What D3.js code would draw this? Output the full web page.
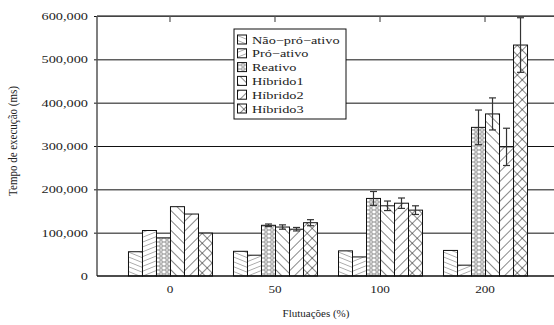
<!DOCTYPE html>
<html lang="pt">
<head>
  <meta charset="UTF-8">
  <title>Tempo de execução</title>
  <script src="https://d3js.org/d3.v7.min.js"></script>
  <style>
    body { margin: 0; background: #fff; }
    svg { display: block; overflow: hidden; }
    text { font-family: "Liberation Serif", "Times New Roman", serif; fill: #222; }
    .grid { stroke: #111; stroke-width: 1; }
    .frame { stroke: #555; stroke-width: 1.5; fill: none; }
    .bar { stroke: #111; stroke-width: 1; }
    .err { stroke: #333; stroke-width: 1.2; }
  </style>
</head>
<body>
  <div id="chart"></div>
  <script>
    // dados
    const categories = ["0", "50", "100", "200"];
    const series = ["Não-pró-ativo", "Pró-ativo", "Reativo", "Híbrido1", "Híbrido2", "Híbrido3"];
    const naoProativo = [56000, 57000, 58000, 59000];
    const proativo = [105000, 48000, 44000, 25000];
    const reativo = [88000, 117000, 179000, 343000];
    const hibrido1 = [160000, 113000, 162000, 374000];
    const hibrido2 = [143000, 108000, 168000, 298000];
    const hibrido3 = [99000, 123000, 152000, 533000];
    const errNaoProativo = [0, 0, 0, 0];
    const errProativo = [0, 0, 0, 0];
    const errReativo = [0, 3000, 16000, 40000];
    const errHibrido1 = [0, 5000, 11000, 37000];
    const errHibrido2 = [0, 4000, 12000, 43000];
    const errHibrido3 = [0, 7000, 10000, 63000];
    const yTicks = [0, 100000, 200000, 300000, 400000, 500000, 600000];

    const values = [naoProativo, proativo, reativo, hibrido1, hibrido2, hibrido3];
    const errors = [errNaoProativo, errProativo, errReativo, errHibrido1, errHibrido2, errHibrido3];

    const width = 554, height = 325;
    const mLeft = 97, mRight = 558, mTop = 16, mBottom = 276;

    const svg = d3.select("#chart").append("svg")
      .attr("width", width)
      .attr("height", height);

    // texto esticado na horizontal, como na figura original
    function label(sel, x, y, sx, txt, anchor, size) {
      return sel.append("text")
        .attr("transform", "translate(" + x + "," + y + ") scale(" + sx + ",1)")
        .attr("text-anchor", anchor)
        .attr("font-size", size)
        .text(txt);
    }

    // padrões de preenchimento
    const defs = svg.append("defs");
    function linePattern(id, angle, gap, color, w) {
      const p = defs.append("pattern")
        .attr("id", id)
        .attr("patternUnits", "userSpaceOnUse")
        .attr("width", gap).attr("height", gap)
        .attr("patternTransform", "rotate(" + angle + ")");
      p.append("rect").attr("width", gap).attr("height", gap).attr("fill", "#fff");
      p.append("line").attr("x1", 0).attr("y1", 0).attr("x2", 0).attr("y2", gap)
        .attr("stroke", color).attr("stroke-width", w);
      return p;
    }
    linePattern("p0", -68, 4.5, "#666", 1);    // \ raso
    linePattern("p1", 68, 4.5, "#666", 1);     // / raso
    // reativo: pequenos ovais
    const p2 = defs.append("pattern").attr("id", "p2")
      .attr("patternUnits", "userSpaceOnUse").attr("width", 6).attr("height", 4);
    p2.append("rect").attr("width", 6).attr("height", 4).attr("fill", "#fff");
    p2.append("ellipse").attr("cx", 3).attr("cy", 2).attr("rx", 2.4).attr("ry", 1.2)
      .attr("fill", "none").attr("stroke", "#666").attr("stroke-width", 0.8);
    linePattern("p3", -45, 7, "#111", 1);      // \
    linePattern("p4", 45, 7, "#111", 1);       // /
    const p5 = linePattern("p5", 45, 7, "#111", 1);
    p5.append("line").attr("x1", 0).attr("y1", 0).attr("x2", 7).attr("y2", 0)
      .attr("stroke", "#111").attr("stroke-width", 1);

    const x0 = d3.scaleBand().domain(categories).range([mLeft, mRight])
      .paddingInner(0.2).paddingOuter(0.295);
    const x1 = d3.scaleBand().domain(series).range([0, x0.bandwidth()]);
    const y = d3.scaleLinear().domain([0, 600000]).range([mBottom, mTop]);

    // linhas de grade
    svg.append("g").selectAll("line").data(yTicks.slice(1)).join("line")
      .attr("class", "grid")
      .attr("x1", mLeft - 3).attr("x2", mRight)
      .attr("y1", d => y(d) + 0.5).attr("y2", d => y(d) + 0.5);

    // eixo y
    const yAxis = svg.append("g");
    yTicks.forEach(d => label(yAxis, mLeft - 9, y(d) + 4, 1.3, d3.format(",")(d), "end", 11));

    // barras
    const groups = svg.append("g").selectAll("g").data(categories).join("g")
      .attr("transform", c => "translate(" + x0(c) + ",0)");

    groups.each(function (c, ci) {
      const g = d3.select(this);
      series.forEach((s, si) => {
        const v = values[si][ci];
        g.append("rect")
          .attr("class", "bar")
          .attr("x", x1(s) + 0.5)
          .attr("y", y(v))
          .attr("width", x1.bandwidth())
          .attr("height", y(0) - y(v))
          .attr("fill", "url(#p" + si + ")");
      });
      series.forEach((s, si) => {
        const v = values[si][ci], e = errors[si][ci];
        if (!e) return;
        const cx = x1(s) + x1.bandwidth() / 2 + 0.5;
        g.append("line").attr("class", "err")
          .attr("x1", cx).attr("x2", cx).attr("y1", y(v + e)).attr("y2", y(v - e));
        [v + e, v - e].forEach(t => {
          g.append("line").attr("class", "err")
            .attr("x1", cx - 3.5).attr("x2", cx + 3.5).attr("y1", y(t)).attr("y2", y(t));
        });
      });
    });

    // moldura
    svg.append("line").attr("class", "frame")
      .attr("x1", mLeft).attr("x2", mRight).attr("y1", mTop).attr("y2", mTop);
    svg.append("line").attr("class", "frame")
      .attr("x1", mLeft).attr("x2", mLeft).attr("y1", mTop).attr("y2", mBottom);
    svg.append("line").attr("stroke", "#111").attr("stroke-width", 1.5)
      .attr("x1", mLeft).attr("x2", mRight).attr("y1", mBottom).attr("y2", mBottom);
    svg.append("g").selectAll("line").data(categories).join("line")
      .attr("stroke", "#555").attr("stroke-width", 1.2)
      .attr("x1", c => x0(c) + x0.bandwidth() / 2).attr("x2", c => x0(c) + x0.bandwidth() / 2)
      .attr("y1", mTop).attr("y2", mTop + 6);

    // eixo x
    const xAxis = svg.append("g");
    categories.forEach(c => label(xAxis, x0(c) + x0.bandwidth() / 2, 293, 1.2, c, "middle", 11));

    label(svg, 316, 317, 1.0, "Flutuações (%)", "middle", 11);

    svg.append("text")
      .attr("transform", "translate(17,141) scale(1.2,1) rotate(-90)")
      .attr("text-anchor", "middle")
      .attr("font-size", 11)
      .text("Tempo de execução (ms)");

    // legenda
    const leg = svg.append("g").attr("transform", "translate(234,29)");
    leg.append("rect").attr("width", 112).attr("height", 90)
      .attr("fill", "#fff").attr("stroke", "#111").attr("stroke-width", 1);
    series.forEach((s, i) => {
      const row = leg.append("g").attr("transform", "translate(0," + (10.5 + i * 13.8) + ")");
      row.append("rect")
        .attr("x", 3.5).attr("y", -4.5).attr("width", 9).attr("height", 9)
        .attr("fill", "url(#p" + i + ")")
        .attr("stroke", "#111").attr("stroke-width", 1);
      label(row, 18, 4, 1.3, s.replace(/-/g, "\u2212"), "start", 11);
    });
  </script>
</body>
</html>
